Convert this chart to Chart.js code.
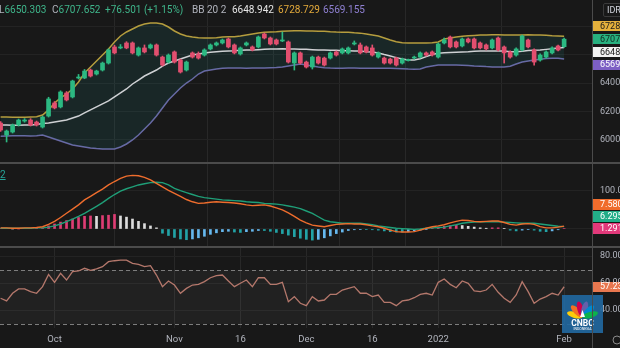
<!DOCTYPE html>
<html>
<head>
<meta charset="utf-8">
<title>IHSG daily</title>
<script src="https://cdn.jsdelivr.net/npm/chart.js@4.4.1/dist/chart.umd.min.js"></script>
<style>
  html, body { margin: 0; padding: 0; background: #181818; }
  #wrap { position: relative; width: 620px; height: 348px; overflow: hidden; background: #181818;
          font-family: Roboto, "Noto Sans", sans-serif; }
  #wrap canvas { position: absolute; left: 0; }
  .line { position: absolute; background: #4b4b4b; }
  .t { position: absolute; top: 4px; font-size: 10px; line-height: 12px; white-space: nowrap; }
  .g { color: #b2b5be; }
  .up { color: #3fb68b; }
</style>
</head>
<body>
<div id="wrap">
  <canvas id="price" width="620" height="162" style="top:0"></canvas>
  <canvas id="macd" width="620" height="82" style="top:164px"></canvas>
  <canvas id="rsi" width="620" height="100" style="top:248px"></canvas>
  <div class="line" style="left:0;top:162px;width:620px;height:2px"></div>
  <div class="line" style="left:0;top:246px;width:620px;height:2px"></div>
  <div class="line" style="left:592px;top:0;width:1px;height:348px"></div>

  <div class="t" style="left:-1px"><span class="g">L</span><span class="up">6650.303</span></div>
  <div class="t" style="left:52px"><span class="g">C</span><span class="up">6707.652</span></div>
  <div class="t up" style="left:105px">+76.501 (+1.15%)</div>
  <div class="t g" style="left:192px">BB 20 2</div>
  <div class="t" style="left:232px;color:#e6e6e6">6648.942</div>
  <div class="t" style="left:278px;color:#e2a93b">6728.729</div>
  <div class="t" style="left:323px;color:#8f80d2">6569.155</div>
  <div class="t" style="left:0;top:169px;color:#26a69a;text-decoration:underline">2</div>
  <div class="t" style="left:603px;top:3px;font-size:9px;color:#d1d4dc;border:1px solid #3a3a3a;border-radius:2px;padding:0 3px">IDR</div>
</div>

<script>
// x tick positions (bar index) and their labels
var tickIdx  = [9, 29, 40, 51, 62, 73, 94];
var tickText = ['Oct', 'Nov', '16', 'Dec', '16', '2022', 'Feb'];

// daily candles, one per trading day
var openP = [6119,6035,6056,6105,6133,6140,6126,6091,6168,6260, 6232,6330,6302,6435,6435,6491,6463,6491,6540,6653,
  6646,6681,6681,6596,6646,6646,6667,6582,6547,6618, 6561,6491,6611,6604,6596,6639,6667,6681,6709,6667,
  6604,6667,6653,6653,6744,6716,6702,6695,6688,6540, 6611,6547,6512,6582,6575,6575,6618,6611,6611,6674,
  6667,6653,6646,6582,6575,6568,6575,6540,6558,6575, 6582,6611,6618,6582,6681,6723,6688,6660,6709,6709,
  6681,6667,6646,6716,6653,6618,6596,6632,6702,6632, 6561,6582,6611,6660,6655];
var highP = [6130,6070,6112,6147,6150,6150,6133,6168,6300,6270, 6345,6340,6420,6460,6495,6498,6490,6547,6640,6665,
  6670,6690,6688,6653,6667,6674,6674,6589,6604,6625, 6568,6554,6618,6618,6640,6674,6688,6709,6716,6674,
  6653,6688,6660,6730,6751,6723,6709,6758,6695,6618, 6618,6554,6589,6589,6582,6618,6625,6646,6653,6695,
  6681,6660,6667,6618,6582,6575,6582,6575,6568,6589, 6618,6618,6625,6681,6716,6730,6695,6716,6716,6716,
  6688,6674,6709,6723,6660,6625,6646,6737,6709,6639, 6604,6625,6653,6667,6716];
var lowP = [6060,5986,6049,6098,6125,6098,6098,6084,6161,6218, 6225,6274,6295,6428,6430,6442,6456,6484,6533,6604,
  6640,6640,6604,6589,6611,6639,6589,6519,6540,6540, 6470,6484,6575,6568,6589,6632,6660,6674,6646,6604,
  6596,6660,6625,6646,6709,6667,6667,6690,6540,6491, 6533,6505,6498,6533,6519,6568,6589,6604,6604,6667,
  6604,6611,6589,6575,6533,6533,6519,6533,6554,6568, 6575,6589,6589,6575,6674,6646,6646,6653,6681,6639,
  6639,6632,6639,6625,6540,6575,6589,6625,6646,6526, 6554,6575,6604,6625,6650.303];
var closeP = [6070,6063,6105,6140,6140,6105,6105,6161,6288,6225, 6337,6281,6414,6442,6484,6449,6484,6540,6632,6611,
  6653,6646,6611,6646,6618,6667,6596,6526,6596,6547, 6477,6547,6582,6575,6632,6667,6681,6702,6653,6611,
  6646,6681,6632,6723,6716,6674,6674,6702,6547,6611, 6540,6512,6582,6540,6526,6611,6596,6639,6646,6681,
  6611,6618,6596,6611,6540,6540,6526,6568,6561,6582, 6611,6596,6596,6674,6702,6653,6653,6709,6688,6646,
  6646,6639,6702,6632,6611,6582,6639,6730,6653,6547, 6596,6618,6646,6631.151,6707.652];

// Bollinger bands (20, 2)
var bbUpper = [6161,6162,6160,6159,6160,6162,6163,6175,6211,6260, 6295,6323,6358,6407,6470,6512,6554,6596,6639,6688,
  6730,6758,6779,6800,6814,6821,6821,6814,6793,6765, 6744,6730,6723,6717,6715,6716,6718,6722,6724,6725,
  6730,6737,6744,6751,6756,6758,6760,6763,6765,6766, 6766,6765,6765,6764,6763,6760,6758,6757,6756,6752,
  6750,6744,6737,6730,6716,6702,6690,6683,6681,6680, 6680,6681,6682,6688,6709,6716,6723,6728,6731,6734,
  6736,6737,6738,6738,6737,6737,6736,6737,6738,6737, 6736,6735,6732,6730,6728.729];
var bbBasis = [6106,6105,6104,6104,6105,6106,6108,6116,6119,6126, 6133,6140,6154,6168,6190,6211,6232,6253,6274,6302,
  6330,6358,6393,6421,6449,6470,6491,6519,6540,6554, 6568,6582,6596,6604,6611,6616,6619,6622,6625,6626,
  6629,6631,6632,6634,6636,6638,6639,6640,6639,6638, 6637,6636,6634,6632,6631,6630,6629,6627,6626,6625,
  6624,6620,6617,6611,6600,6590,6578,6568,6562,6561, 6570,6585,6600,6608,6612,6614,6616,6618,6620,6623,
  6624,6625,6625,6625,6624,6620,6619,6623,6628,6630, 6632,6636,6640,6645,6648.942];
var bbLower = [6027,6028,6029,6030,6029,6028,6030,6035,6021,6007, 5993,5979,5965,5958,5951,5944,5940,5937,5936,5937,
  5951,5972,6000,6035,6077,6119,6168,6225,6281,6323, 6365,6400,6428,6463,6484,6491,6498,6503,6505,6506,
  6505,6504,6505,6506,6506,6507,6508,6512,6519,6526, 6533,6526,6519,6512,6507,6505,6504,6504,6505,6505,
  6504,6503,6503,6503,6503,6503,6502,6500,6498,6497, 6498,6512,6519,6526,6527,6527,6526,6525,6522,6519,
  6518,6515,6513,6512,6512,6518,6533,6547,6554,6561, 6566,6572,6574,6573,6569.155];

// MACD (12, 26, 9)
var macdLine = [3,3,2,2,3,3,4,6,12,20, 30,41,52,63,76,85,95,104,115,124,
  132,138,140,139,135,128,119,110,101,93, 85,77,71,67,68,70,71,70,69,68,
  66,63,61,62,63,60,55,50,42,33, 23,16,10,8,6,9,12,13,14,13,
  13,11,8,6,2,-3,-7,-8,-8,-7, -3,2,6,8,11,16,20,23,22,20,
  19,20,21,21,17,12,10,13,14,12, 6,3,3,5,7.58];
var signalLine = [2,2,2,2,2,2,3,3,5,8, 13,19,26,33,41,50,59,69,80,90,
  99,105,110,115,118,121,122,121,115,106, 100,95,90,85,82,80,78,76,75,74,
  73,71,70,69,67,66,65,63,60,57, 53,47,41,32,23,19,17,15,15,15,
  15,13,11,8,6,4,2,1,0,-1, 0,2,3,4,5,8,11,15,17,18,
  19,19,19,19,18,17,16,15,15,15, 13,11,9,7,6.295];
var macdHist = [1,1,0,0,1,1,1,2,8,13, 18,22,26,30,33,34,33,35,36,38,
  34,31,26,20,14,8,3,-11,-17,-22, -26,-28,-26,-23,-19,-14,-10,-7,-6,-8,
  -9,-7,-6,-4,-4,-6,-9,-12,-16,-20, -24,-27,-29,-27,-23,-18,-12,-8,-4,-2,
  -1,-1,-2,-3,-5,-7,-8,-8,-7,-5, -3,-1,2,5,7,9,10,9,7,5,
  3,2,3,3,1,-3,-5,-3,-1,-3, -6,-7,-5,-2,1.291];

// RSI (14)
var rsiLine = [48.7,46.7,52.4,55.6,55.6,53.6,52.4,57.3,66.4,60.5, 67.2,62.2,68.4,68.9,70.9,69.4,70.4,72.1,75.8,76.5,
  77,77,74.6,73.8,72.1,72.8,65.9,57.3,61.5,58.5, 52.4,56,58.5,59,61,63.9,65.4,65.9,61.5,57.3,
  59.8,62.2,57.3,63.9,63.9,59,59,60.5,46.2,49.9, 45,43.2,49.9,46.7,47.4,51.6,51.6,54.8,56,57.3,
  52.4,52.4,49.9,51.1,45.7,45.7,43.2,46.7,47.4,49.1, 51.6,52.4,51.1,60.5,63,59,56.5,61.5,59.8,54.1,
  53.6,54.8,59,53.1,48.7,45.7,51.1,61,53.6,45, 48.1,49.9,52.4,51.1,57.23];
var rsiBand = [70, 30];

// y axis ticks
var priceTicks = [6000, 6200, 6400, 6600, 6800];
var priceTickText = ['6000.000', '6200.000', '6400.000', '', ''];
var macdTicks = [0, 100];
var macdTickText = ['', '100.000'];
var rsiTicks = [40, 60, 80];
var rsiTickText = ['40.00', '60.00', '80.00'];

var FONT = 'Roboto, "Noto Sans", sans-serif';
var UP = '#2cb982', DOWN = '#e24f6f';
var X_MIN = -0.1, X_MAX = 98.65;
var AXIS_W = 28;

Chart.defaults.font.family = FONT;
Chart.defaults.animation = false;
Chart.defaults.plugins.legend.display = false;
Chart.defaults.plugins.tooltip.enabled = false;

function pts(arr) { return arr.map(function (v, i) { return { x: i, y: v }; }); }
function spans(a, b) { return a.map(function (v, i) { return { x: i, y: [v, b[i]] }; }); }

var candleColors = closeP.map(function (c, i) { return c >= openP[i] ? UP : DOWN; });
var histColors = macdHist.map(function (h, i) {
  var prev = i > 0 ? macdHist[i - 1] : h;
  if (h >= 0) return h >= prev ? '#df3d74' : '#dcdcdc';
  return h <= prev ? '#22a3a6' : '#66b8ee';
});

function xAxis(showLabels) {
  return {
    type: 'linear', min: X_MIN, max: X_MAX, offset: false,
    grid: { color: '#282828', drawTicks: false },
    border: { display: false },
    afterBuildTicks: function (s) { s.ticks = tickIdx.map(function (v) { return { value: v }; }); },
    afterFit: function (s) { s.height = showLabels ? 20 : 0; s.paddingLeft = 0; s.paddingRight = 0; },
    ticks: {
      display: showLabels, color: '#b2b5be', font: { size: 9.5 }, padding: 6,
      maxRotation: 0, autoSkip: false,
      callback: function (v) { var k = tickIdx.indexOf(v); return k < 0 ? '' : tickText[k]; }
    }
  };
}

function yAxis(min, max, ticks, labels) {
  return {
    position: 'right', min: min, max: max,
    grid: { color: '#232323', drawTicks: false },
    border: { display: false },
    afterBuildTicks: function (s) { s.ticks = ticks.map(function (v) { return { value: v }; }); },
    afterFit: function (s) { s.width = AXIS_W; s.paddingTop = 0; s.paddingBottom = 0; },
    ticks: {
      color: '#b2b5be', font: { size: 9 }, padding: 8, autoSkip: false,
      callback: function (v) { var k = ticks.indexOf(v); return k < 0 ? '' : labels[k]; }
    }
  };
}

// coloured last-value tags on the price scale
function valueTags(id, tags) {
  return {
    id: id,
    afterDraw: function (chart) {
      var ctx = chart.ctx, ys = chart.scales.y, right = chart.chartArea.right;
      var list = tags.values.map(function (v, i) { return { y: ys.getPixelForValue(v), i: i }; });
      list.sort(function (a, b) { return a.y - b.y; });
      var n = list.length, step = tags.step;
      if (tags.mode === 'center') {
        var mean = list.reduce(function (s, o) { return s + o.y; }, 0) / n;
        list.forEach(function (o, k) { o.y = mean + (k - (n - 1) / 2) * step; });
      } else {
        for (var k = n - 2; k >= 0; k--) list[k].y = Math.min(list[k].y, list[k + 1].y - step);
      }
      ctx.save();
      ctx.font = '9px ' + FONT;
      ctx.textBaseline = 'middle';
      list.forEach(function (o) {
        ctx.fillStyle = tags.bg[o.i];
        ctx.fillRect(right + 1, Math.round(o.y - tags.boxH / 2), 40, tags.boxH);
        ctx.fillStyle = tags.fg[o.i];
        ctx.fillText(tags.values[o.i].toFixed(tags.digits), right + 8, o.y + 0.5);
      });
      ctx.restore();
    }
  };
}

new Chart(document.getElementById('price'), {
  type: 'bar',
  data: {
    datasets: [
      { type: 'line', data: pts(bbUpper), borderColor: '#b59d3e', borderWidth: 1.5, pointRadius: 0,
        fill: 2, backgroundColor: 'rgba(40,150,150,0.13)', order: 4 },
      { type: 'line', data: pts(bbBasis), borderColor: '#cfd1d4', borderWidth: 1.5, pointRadius: 0, order: 3 },
      { type: 'line', data: pts(bbLower), borderColor: '#6c68a6', borderWidth: 1.5, pointRadius: 0, order: 5 },
      { data: spans(lowP, highP), backgroundColor: candleColors, barThickness: 1, grouped: false, order: 1 },
      { data: spans(openP, closeP), backgroundColor: candleColors, barThickness: 4, minBarLength: 1,
        grouped: false, order: 0 }
    ]
  },
  options: {
    responsive: false,
    devicePixelRatio: 1,
    layout: { padding: 0 },
    scales: {
      x: xAxis(false),
      y: yAxis(5845.6, 6982.5, priceTicks, priceTickText)
    }
  },
  plugins: [valueTags('priceTags', {
    values: [bbUpper[bbUpper.length - 1], closeP[closeP.length - 1], bbBasis[bbBasis.length - 1], bbLower[bbLower.length - 1]],
    bg: ['#e4b03c', '#27b07f', '#f2f2f2', '#7d5fc5'],
    fg: ['#1b1b1b', '#12291f', '#1b1b1b', '#ffffff'],
    digits: 3, step: 12.8, boxH: 10, mode: 'center'
  })]
});

new Chart(document.getElementById('macd'), {
  type: 'bar',
  data: {
    datasets: [
      { type: 'line', data: pts(macdLine), borderColor: '#ee6d2d', borderWidth: 1.4, pointRadius: 0, order: 0 },
      { type: 'line', data: pts(signalLine), borderColor: '#1f9f78', borderWidth: 1.4, pointRadius: 0, order: 1 },
      { data: pts(macdHist), backgroundColor: histColors, barThickness: 2, order: 2 }
    ]
  },
  options: {
    responsive: false,
    devicePixelRatio: 1,
    layout: { padding: 0 },
    scales: {
      x: xAxis(false),
      y: yAxis(-44.4, 169.7, macdTicks, macdTickText)
    }
  },
  plugins: [valueTags('macdTags', {
    values: [macdLine[macdLine.length - 1], signalLine[signalLine.length - 1], macdHist[macdHist.length - 1]],
    bg: ['#f06c2c', '#22ad88', '#e2397a'],
    fg: ['#ffffff', '#ffffff', '#ffffff'],
    digits: 3, step: 12, boxH: 11, mode: 'bottom'
  })]
});

var rsiBandPlugin = {
  id: 'rsiBand',
  beforeDatasetsDraw: function (chart) {
    var ctx = chart.ctx, a = chart.chartArea, ys = chart.scales.y;
    var top = Math.round(ys.getPixelForValue(rsiBand[0])), bot = Math.round(ys.getPixelForValue(rsiBand[1]));
    ctx.save();
    ctx.fillStyle = 'rgba(255,255,255,0.045)';
    ctx.fillRect(a.left, top, a.right - a.left, bot - top);
    ctx.strokeStyle = '#7d7d7d';
    ctx.lineWidth = 1;
    ctx.setLineDash([4, 3]);
    [top, bot].forEach(function (p) {
      ctx.beginPath(); ctx.moveTo(a.left, p + 0.5); ctx.lineTo(a.right, p + 0.5); ctx.stroke();
    });
    ctx.restore();
  }
};

var logoPlugin = {
  id: 'logo',
  afterDraw: function (chart) {
    var ctx = chart.ctx;
    var x = 562, y = 47, w = 41, h = 38;
    ctx.save();
    ctx.fillStyle = 'rgba(34,104,160,0.92)';
    ctx.fillRect(x, y, w, h);
    var cx = x + w / 2, cy = y + 22;
    var cols = ['#fccc0a', '#f37021', '#cc004c', '#6460aa', '#0089d0', '#0db14b'];
    for (var k = 0; k < 6; k++) {
      var ang = Math.PI + (k + 0.5) * Math.PI / 6;
      ctx.save();
      ctx.translate(cx, cy);
      ctx.rotate(ang + Math.PI / 2);
      ctx.beginPath();
      ctx.ellipse(0, -8, 3.1, 8, 0, 0, Math.PI * 2);
      ctx.fillStyle = cols[k];
      ctx.fill();
      ctx.restore();
    }
    ctx.fillStyle = '#ffffff';
    ctx.beginPath();
    ctx.moveTo(cx - 2.5, cy); ctx.lineTo(cx + 2.5, cy); ctx.lineTo(cx, cy - 7); ctx.closePath();
    ctx.fill();
    ctx.textAlign = 'center';
    ctx.textBaseline = 'middle';
    ctx.font = 'bold 8.5px ' + FONT;
    ctx.fillText('CNBC', cx, y + 28.5);
    ctx.font = '3.5px ' + FONT;
    ctx.fillText('INDONESIA', cx, y + 34);
    // settings gear
    ctx.strokeStyle = '#8a8a8a';
    ctx.lineWidth = 1;
    ctx.beginPath();
    ctx.arc(617, 92, 4, 0, Math.PI * 2);
    ctx.stroke();
    ctx.restore();
  }
};

new Chart(document.getElementById('rsi'), {
  type: 'line',
  data: {
    datasets: [
      { data: pts(rsiLine), borderColor: '#b5786c', borderWidth: 1.3, pointRadius: 0 }
    ]
  },
  options: {
    responsive: false,
    devicePixelRatio: 1,
    layout: { padding: 0 },
    scales: {
      x: xAxis(true),
      y: yAxis(26.67, 85.93, rsiTicks, rsiTickText)
    }
  },
  plugins: [rsiBandPlugin, valueTags('rsiTags', {
    values: [rsiLine[rsiLine.length - 1]],
    bg: ['#e8774f'],
    fg: ['#ffffff'],
    digits: 2, step: 11, boxH: 10, mode: 'bottom'
  }), logoPlugin]
});
</script>
</body>
</html>
